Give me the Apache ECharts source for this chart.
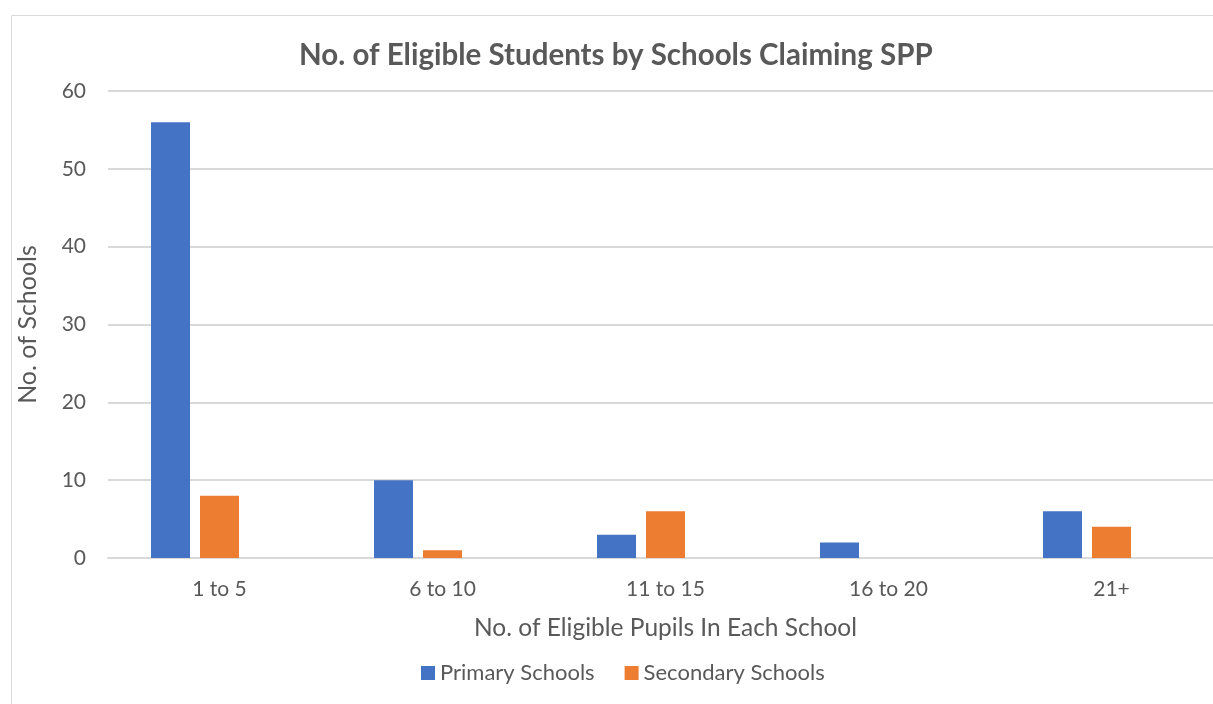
<!DOCTYPE html>
<html>
<head>
<meta charset="utf-8">
<script src="https://cdn.jsdelivr.net/npm/echarts@6/dist/echarts.min.js"></script>
<style>
html,body{margin:0;padding:0;background:#fff;}
#chart{width:1213px;height:704px;}
</style>
</head>
<body>
<div id="chart"></div>
<script>
const categories = ['1 to 5', '6 to 10', '11 to 15', '16 to 20', '21+'];
const primarySchools = [56, 10, 3, 2, 6];
const secondarySchools = [8, 1, 6, 0, 4];
const blankSeries = [null, null, null, null, null];
const yTicks = [0, 10, 20, 30, 40, 50, 60];

const FONT = 'Lato';
const TXT = '#595959';

const chart = echarts.init(document.getElementById('chart'));
chart.setOption({
  animation: false,
  backgroundColor: '#ffffff',
  textStyle: { fontFamily: FONT },
  graphic: [{
    type: 'rect', left: 9, top: 13, silent: true,
    shape: { width: 1230, height: 720 },
    style: { fill: 'none', stroke: '#D9D9D9', lineWidth: 1 }
  }],
  title: {
    text: 'No. of Eligible Students by Schools Claiming SPP',
    left: 294, top: 35,
    textStyle: { fontFamily: FONT, fontSize: 29.5, fontWeight: 'bold', color: TXT }
  },
  legend: {
    data: ['Primary Schools', 'Secondary Schools'],
    left: 416, top: 657,
    icon: 'rect', itemWidth: 14, itemHeight: 14, itemGap: 30,
    textStyle: { fontFamily: FONT, fontSize: 22, color: TXT }
  },
  grid: { left: 108, width: 1115, top: 91, bottom: 146, outerBoundsMode: 'none', containLabel: false },
  xAxis: {
    type: 'category',
    data: categories,
    name: 'No. of Eligible Pupils In Each School',
    nameLocation: 'middle', nameGap: 58,
    nameTextStyle: { fontFamily: FONT, fontSize: 24.5, color: TXT },
    axisLine: { lineStyle: { color: '#D9D9D9', width: 2 } },
    axisTick: { show: false },
    axisLabel: { fontFamily: FONT, fontSize: 21, color: TXT, margin: 21 }
  },
  yAxis: {
    type: 'value', min: 0, max: 60, interval: 10,
    name: 'No. of Schools',
    nameLocation: 'middle', nameGap: 68, nameRotate: 90,
    nameTextStyle: { fontFamily: FONT, fontSize: 25, color: TXT },
    axisLine: { show: false }, axisTick: { show: false },
    axisLabel: { fontFamily: FONT, fontSize: 21, color: TXT, margin: 22,
      formatter: v => yTicks.includes(v) ? String(v) : '' },
    splitLine: { lineStyle: { color: '#D9D9D9', width: 2 } }
  },
  series: [
    { name: 'Primary Schools', type: 'bar', data: primarySchools, barWidth: 39, barGap: '25.6%',
      itemStyle: { color: '#4472C4' } },
    { name: 'Secondary Schools', type: 'bar', data: secondarySchools, barWidth: 39, barGap: '25.6%',
      itemStyle: { color: '#ED7D31' } },
    { name: 'blank', type: 'bar', data: blankSeries, barWidth: 39, barGap: '25.6%',
      itemStyle: { color: '#A5A5A5' } }
  ]
});
</script>
</body>
</html>
